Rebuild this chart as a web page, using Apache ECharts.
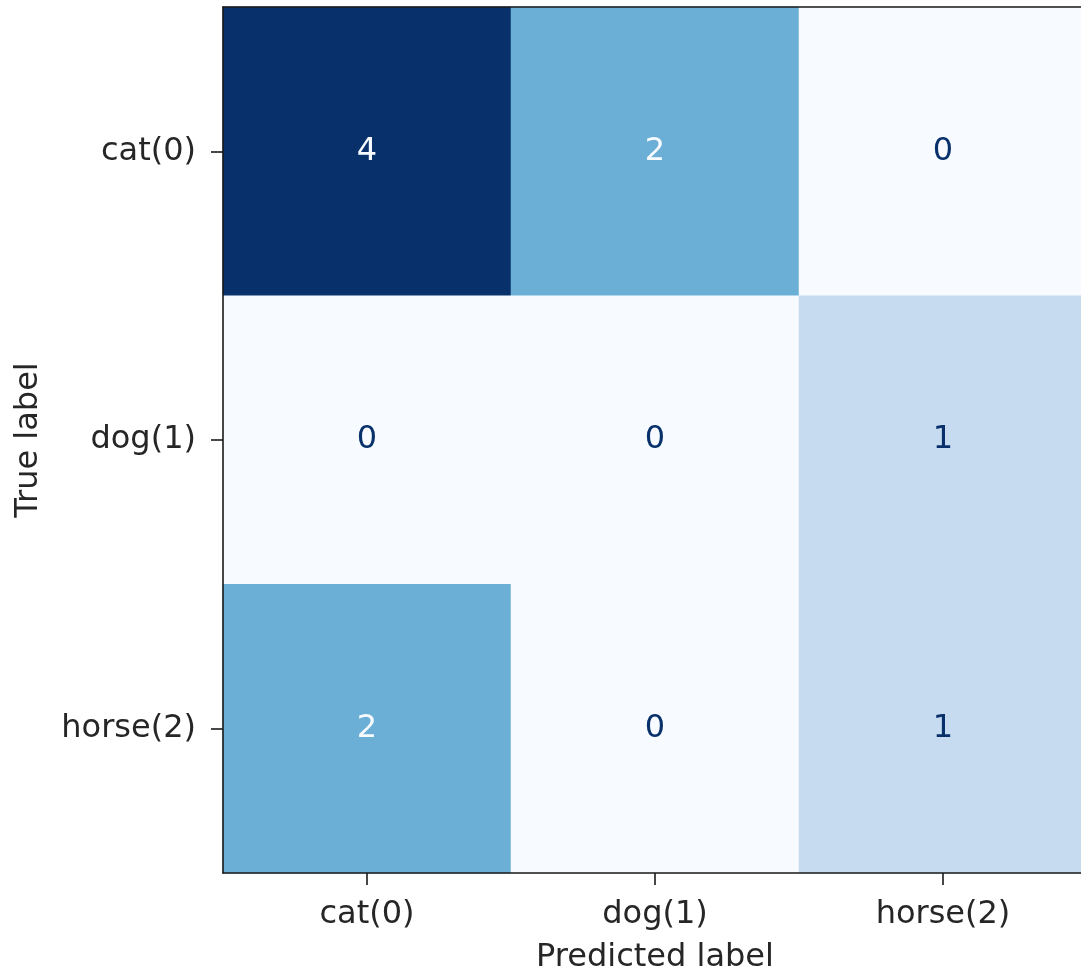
<!DOCTYPE html>
<html>
<head>
<meta charset="utf-8">
<script src="https://cdn.jsdelivr.net/npm/echarts@6/dist/echarts.min.js"></script>
<style>html,body{margin:0;padding:0;background:#fff}#c{width:1081px;height:974px}</style>
</head>
<body>
<div id="c"></div>
<script>
const predictedLabels = ['cat(0)', 'dog(1)', 'horse(2)'];
const trueLabels = ['cat(0)', 'dog(1)', 'horse(2)'];
// rows = true label, columns = predicted label
const rowCat = [4, 2, 0];
const rowDog = [0, 0, 1];
const rowHorse = [2, 0, 1];
const matrix = [rowCat, rowDog, rowHorse];
const blues = ['#f7fbff','#deebf7','#c6dbef','#9ecae1','#6baed6','#4292c6','#2171b5','#08519c','#08306b'];

let vmin = Infinity, vmax = -Infinity;
matrix.forEach(r => r.forEach(v => { vmin = Math.min(vmin, v); vmax = Math.max(vmax, v); }));
const thresh = (vmin + vmax) / 2;
const data = [];
matrix.forEach((r, i) => r.forEach((v, j) => {
  data.push({ value: [j, i, v], label: { color: v < thresh ? '#08306b' : '#f7fbff' } });
}));

const FONT = 'DejaVu Sans';
const TXT = '#262626';
const FS = 32;
const LINE = { color: '#1a1a1a', width: 1.6 };
const chart = echarts.init(document.getElementById('c'), null, { renderer: 'canvas' });
chart.setOption({
  animation: false,
  textStyle: { fontFamily: FONT },
  grid: { left: 223, top: 7, right: -6, bottom: 101, outerBoundsMode: 'none', containLabel: false },
  visualMap: { show: false, min: vmin, max: vmax, dimension: 2, inRange: { color: blues }, seriesIndex: 0 },
  xAxis: [{
    type: 'category', data: predictedLabels, position: 'bottom', z: 10,
    name: 'Predicted label', nameLocation: 'middle', nameGap: 69,
    nameTextStyle: { fontFamily: FONT, fontSize: FS, color: TXT },
    axisLine: { show: true, lineStyle: LINE },
    axisTick: { show: true, alignWithLabel: true, length: 12, lineStyle: LINE },
    axisLabel: { fontFamily: FONT, fontSize: FS, color: TXT, margin: 26 },
    splitLine: { show: false }
  }, {
    type: 'category', data: predictedLabels, position: 'top', z: 10,
    axisLine: { show: true, lineStyle: LINE },
    axisTick: { show: false }, axisLabel: { show: false }
  }],
  yAxis: [{
    type: 'category', data: trueLabels, inverse: true, position: 'left', z: 10,
    name: 'True label', nameLocation: 'middle', nameGap: 178, nameRotate: 90,
    nameTextStyle: { fontFamily: FONT, fontSize: FS, color: TXT },
    axisLine: { show: true, lineStyle: LINE },
    axisTick: { show: true, alignWithLabel: true, length: 12, lineStyle: LINE },
    axisLabel: { fontFamily: FONT, fontSize: FS, color: TXT, margin: 27 },
    splitLine: { show: false }
  }, {
    type: 'category', data: trueLabels, inverse: true, position: 'right', z: 10,
    axisLine: { show: true, lineStyle: LINE },
    axisTick: { show: false }, axisLabel: { show: false }
  }],
  series: [{
    type: 'heatmap', data: data, xAxisIndex: 0, yAxisIndex: 0,
    label: { show: true, fontFamily: FONT, fontSize: FS, formatter: p => p.value[2] },
    emphasis: { disabled: true }
  }]
});
</script>
</body>
</html>
